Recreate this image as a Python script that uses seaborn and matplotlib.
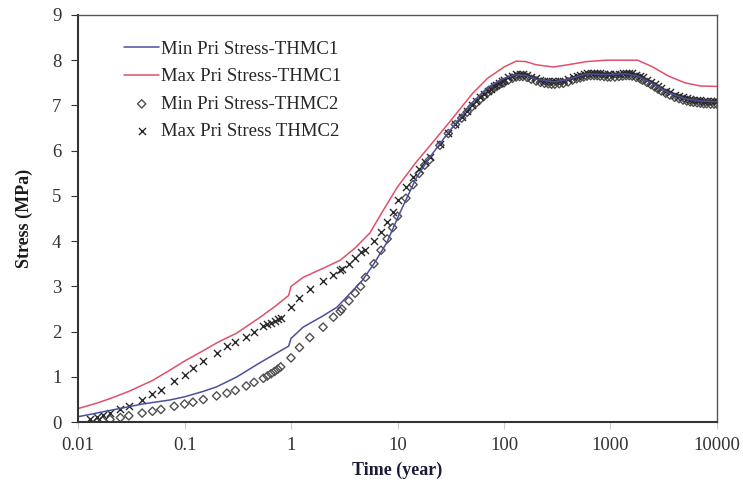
import numpy as np
import pandas as pd
import seaborn as sns
import matplotlib
matplotlib.use("Agg")
import matplotlib.pyplot as plt

# THMC1 curves (lines)
t_thmc1_max = [0.01, 0.015, 0.02, 0.03, 0.05, 0.073, 0.1, 0.15, 0.2, 0.31, 0.5, 0.7, 0.95, 1.0,
               1.3, 2.0, 2.9, 4.0, 5.5, 7.0, 10, 15, 20, 30, 50, 70, 100, 130, 160, 200, 290,
               400, 600, 900, 1300, 1800, 2500, 3500, 5000, 7000, 10000]
s_thmc1_max = [0.30, 0.42, 0.52, 0.68, 0.92, 1.15, 1.35, 1.58, 1.75, 1.97, 2.30, 2.55, 2.80, 3.00,
               3.20, 3.40, 3.58, 3.85, 4.18, 4.60, 5.20, 5.75, 6.10, 6.60, 7.25, 7.60, 7.85, 7.98, 7.97, 7.90, 7.85,
               7.90, 7.97, 8.00, 8.00, 8.00, 7.85, 7.65, 7.50, 7.43, 7.42]

t_thmc1_min = [0.01, 0.015, 0.02, 0.03, 0.04, 0.073, 0.1, 0.15, 0.2, 0.31, 0.5, 0.7, 0.95, 1.0,
               1.3, 2.0, 2.7, 3.6, 4.7, 6.0, 7.9, 10.5, 15, 20, 30, 50, 70, 100, 130, 160, 200, 300,
               400, 600, 900, 1400, 1800, 2500, 3500, 5000, 7000, 10000]
s_thmc1_min = [0.12, 0.20, 0.26, 0.34, 0.40, 0.49, 0.56, 0.68, 0.78, 1.00, 1.30, 1.50, 1.68, 1.85,
               2.10, 2.35, 2.54, 2.85, 3.14, 3.50, 3.96, 4.62, 5.40, 5.85, 6.40, 7.05, 7.40, 7.60, 7.68, 7.66, 7.58, 7.52,
               7.58, 7.70, 7.68, 7.70, 7.65, 7.48, 7.28, 7.15, 7.10, 7.08]

# THMC2 results (markers) - rising part
t_thmc2_rise = [0.013, 0.015, 0.017, 0.02, 0.025, 0.03, 0.04, 0.05, 0.06, 0.08, 0.1, 0.12, 0.15, 0.2,
                0.25, 0.3, 0.38, 0.45, 0.55, 0.6, 0.65, 0.7, 0.75, 0.8, 1.0, 1.2, 1.5, 2.0, 2.5, 2.9,
                3.0, 3.5, 4.0, 4.5, 5, 6, 7, 8, 9, 10, 12, 14, 16, 18, 20, 25, 30, 35, 40, 45,
                50, 55, 60, 65, 70, 75, 80, 85, 90, 95]
s_thmc2_max_rise = [0.08, 0.12, 0.15, 0.20, 0.30, 0.36, 0.50, 0.62, 0.72, 0.90, 1.05, 1.20, 1.35, 1.52,
                    1.68, 1.78, 1.88, 2.00, 2.12, 2.17, 2.20, 2.23, 2.27, 2.30, 2.55, 2.75, 2.95, 3.12, 3.25, 3.36,
                    3.38, 3.50, 3.62, 3.75, 3.80, 4.00, 4.20, 4.42, 4.65, 4.90, 5.20, 5.42, 5.60, 5.75, 5.85, 6.15, 6.40, 6.60, 6.75, 6.88,
                    7.00, 7.10, 7.18, 7.25, 7.32, 7.37, 7.42, 7.46, 7.50, 7.53]
s_thmc2_min_rise = [-0.03, 0.00, 0.03, 0.06, 0.10, 0.14, 0.20, 0.24, 0.28, 0.35, 0.40, 0.44, 0.50, 0.58,
                    0.64, 0.70, 0.80, 0.88, 0.97, 1.02, 1.07, 1.12, 1.17, 1.22, 1.42, 1.65, 1.87, 2.10, 2.32, 2.45,
                    2.50, 2.68, 2.85, 3.00, 3.20, 3.50, 3.80, 4.05, 4.30, 4.55, 4.95, 5.25, 5.50, 5.68, 5.80, 6.12, 6.38, 6.58, 6.72, 6.85,
                    6.97, 7.06, 7.14, 7.21, 7.28, 7.33, 7.38, 7.42, 7.46, 7.49]

# THMC2 results (markers) - plateau part
t_thmc2_plat = [100, 110, 120, 130, 140, 150, 165, 180, 200, 220, 240, 260, 280, 300, 330, 360, 400, 440, 480, 520,
                560, 600, 650, 700, 750, 800, 870, 940, 1000, 1100, 1200, 1300, 1400, 1500, 1600, 1750, 1900, 2000, 2200, 2400,
                2600, 2800, 3000, 3300, 3600, 4000, 4400, 4800, 5200, 5600, 6000, 6500, 7000, 7500, 8000, 8700, 9400, 10000]
s_thmc2_max_plat = [7.56, 7.62, 7.66, 7.69, 7.70, 7.70, 7.68, 7.64, 7.60, 7.57, 7.55, 7.54, 7.53, 7.53, 7.54, 7.55, 7.58, 7.62, 7.65, 7.67,
                    7.69, 7.71, 7.72, 7.72, 7.72, 7.71, 7.70, 7.69, 7.69, 7.69, 7.70, 7.71, 7.72, 7.72, 7.71, 7.68, 7.65, 7.62, 7.57, 7.52,
                    7.47, 7.42, 7.38, 7.33, 7.29, 7.24, 7.21, 7.18, 7.16, 7.14, 7.13, 7.12, 7.11, 7.10, 7.10, 7.09, 7.09, 7.09]
s_thmc2_min_plat = [7.50, 7.56, 7.60, 7.63, 7.64, 7.64, 7.62, 7.58, 7.54, 7.51, 7.49, 7.48, 7.47, 7.47, 7.48, 7.49, 7.52, 7.56, 7.59, 7.61,
                    7.63, 7.65, 7.66, 7.66, 7.66, 7.65, 7.64, 7.63, 7.63, 7.63, 7.64, 7.65, 7.66, 7.66, 7.65, 7.62, 7.59, 7.56, 7.51, 7.46,
                    7.41, 7.36, 7.32, 7.27, 7.23, 7.18, 7.15, 7.12, 7.10, 7.08, 7.07, 7.06, 7.05, 7.04, 7.04, 7.03, 7.03, 7.03]

x_ticks = [0.01, 0.1, 1, 10, 100, 1000, 10000]
x_labels = ["0.01", "0.1", "1", "10", "100", "1000", "10000"]

t_thmc2 = t_thmc2_rise + t_thmc2_plat
s_thmc2_min = s_thmc2_min_rise + s_thmc2_min_plat
s_thmc2_max = s_thmc2_max_rise + s_thmc2_max_plat

sns.set_style("white")
plt.rcParams['font.family'] = ['Liberation Serif', 'DejaVu Serif']

fig = plt.figure(figsize=(7.43, 4.83), dpi=100)
ax = fig.add_axes([0.105, 0.126, 0.86, 0.843])

sns.lineplot(x=t_thmc1_min, y=s_thmc1_min, ax=ax, color="#4b4f9c", lw=1.1,
             sort=False, estimator=None, label="Min Pri Stress-THMC1")
sns.lineplot(x=t_thmc1_max, y=s_thmc1_max, ax=ax, color="#e0506a", lw=1.1,
             sort=False, estimator=None, label="Max Pri Stress-THMC1")
sns.scatterplot(x=t_thmc2, y=s_thmc2_min, ax=ax, marker="D", s=18, facecolor="none",
                edgecolor="#505050", linewidth=1.0, label="Min Pri Stress-THMC2")
sns.scatterplot(x=t_thmc2, y=s_thmc2_max, ax=ax, marker="x", s=26, color="#2a2a2a",
                linewidth=1.0, label="Max Pri Stress THMC2")

ax.set_xscale("log")
ax.set_xlim(0.01, 10000)
ax.set_ylim(0, 9)
ax.set_xticks(x_ticks)
ax.set_xticklabels(x_labels)
ax.minorticks_off()
ax.set_yticks(range(0, 10))
ax.tick_params(axis="both", labelsize=13.5, colors="#333333", length=5, direction="out",
               left=True, bottom=True)
ax.tick_params(axis="y", pad=7)
ax.tick_params(axis="x", color="#cccccc", length=5, pad=6)

for sp in ax.spines.values():
    sp.set_color("#555555")
    sp.set_linewidth(1.0)
ax.spines["left"].set_linewidth(1.5)
ax.spines["left"].set_color("#333333")
ax.spines["bottom"].set_linewidth(1.5)
ax.spines["bottom"].set_color("#333333")

ax.set_xlabel("Time (year)", fontsize=13, fontweight="bold", color="#1a1a3a", labelpad=5)
ax.set_ylabel("Stress (MPa)", fontsize=13, fontweight="bold", color="#1a1a1a", labelpad=14)

leg = ax.legend(loc="upper left", bbox_to_anchor=(0.06, 0.955), frameon=False,
                fontsize=13.5, handlelength=1.9, handletextpad=0.1, labelspacing=0.55,
                borderaxespad=0)

fig.savefig("out.png", dpi=100)
